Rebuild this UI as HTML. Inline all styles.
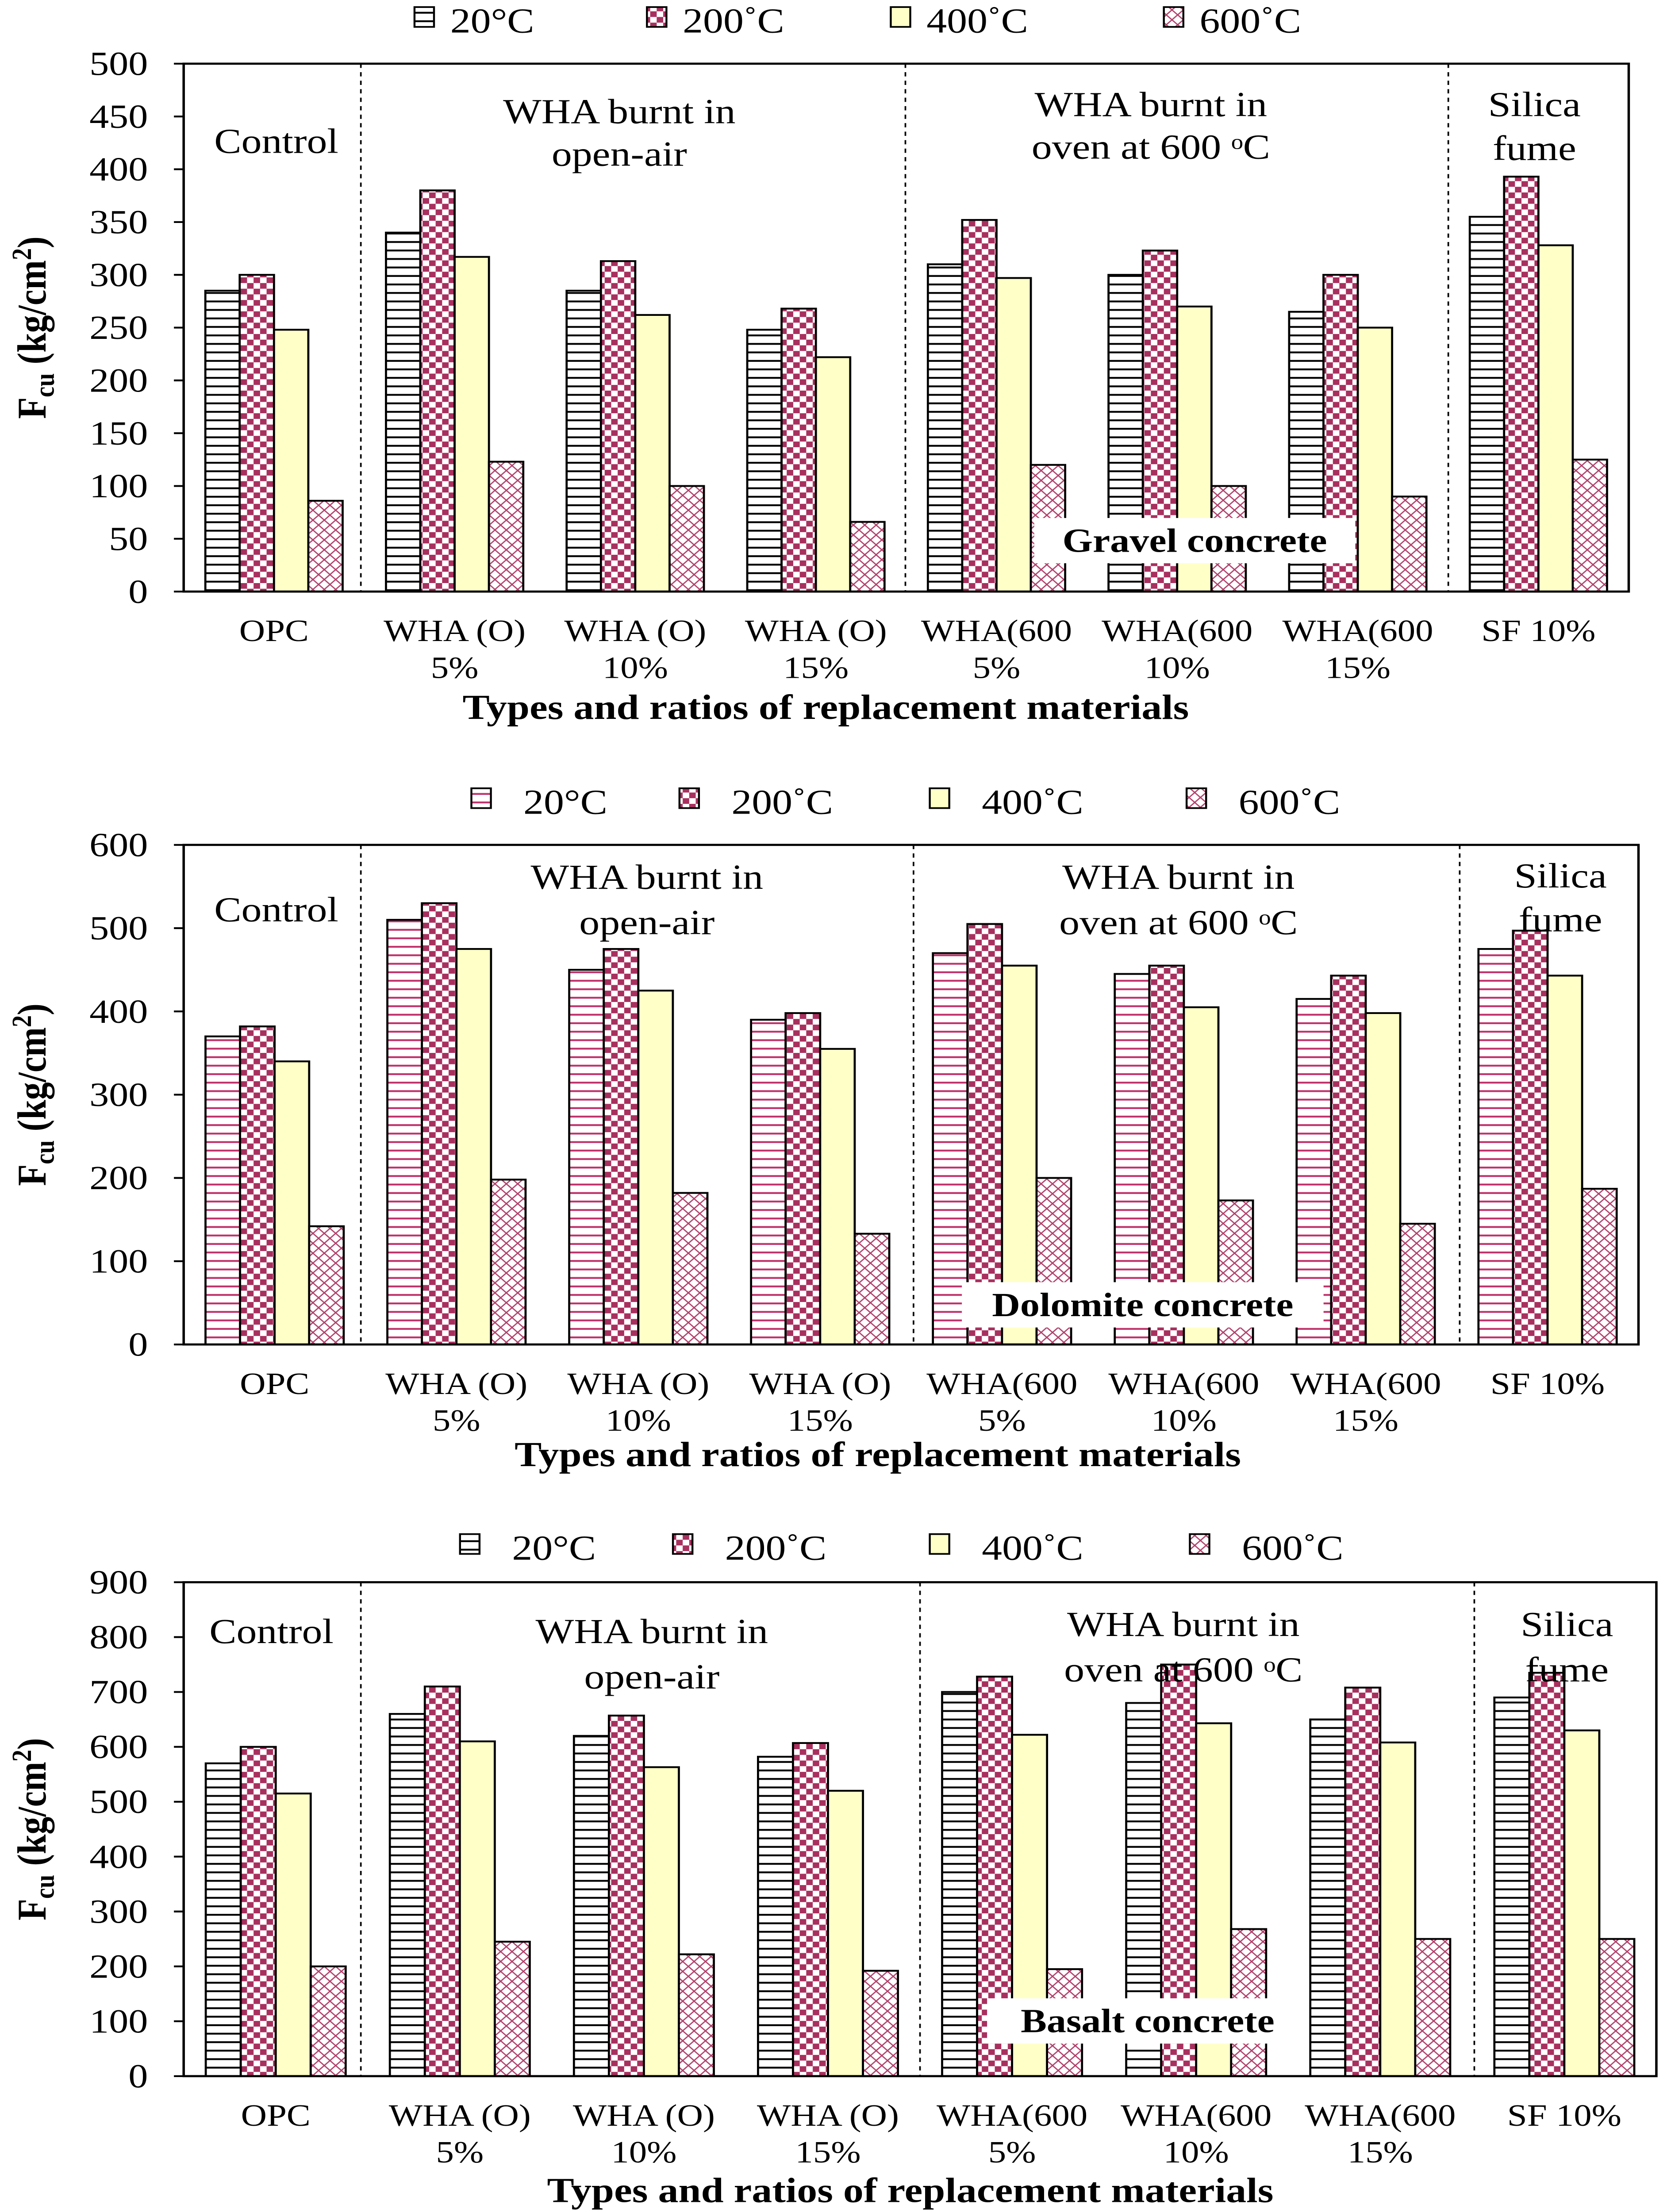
<!DOCTYPE html>
<html><head><meta charset="utf-8"><style>
html,body{margin:0;padding:0;background:#fff;width:100%;height:100%;overflow:hidden}
svg{display:block;width:100%;height:100%}
text{font-family:"Liberation Serif",serif;fill:#000}
</style></head><body>
<svg id="fig" xmlns="http://www.w3.org/2000/svg" width="100%" height="100%" viewBox="0 0 1028 1563" preserveAspectRatio="none">
<defs>
<pattern id="hBlack" width="6" height="6" patternUnits="userSpaceOnUse"><rect width="6" height="6" fill="#fff"/><line x1="0" y1="3" x2="6" y2="3" stroke="#000" stroke-width="1.3"/></pattern>
<pattern id="hPink" width="6" height="6" patternUnits="userSpaceOnUse"><rect width="6" height="6" fill="#fff"/><line x1="0" y1="3" x2="6" y2="3" stroke="#c0306a" stroke-width="1.3"/></pattern>
<pattern id="check" width="8" height="8" patternUnits="userSpaceOnUse"><rect width="8" height="8" fill="#fff"/><rect width="4" height="4" fill="#a8305e"/><rect x="4" y="4" width="4" height="4" fill="#a8305e"/></pattern>
<pattern id="cross" width="7" height="7" patternUnits="userSpaceOnUse"><rect width="7" height="7" fill="#fff"/><path d="M0,0L7,7M7,0L0,7" stroke="#b0406a" stroke-width="0.8"/></pattern>
</defs>
</svg>
<script>
const cats = [["OPC",""],["WHA (O)","5%"],["WHA (O)","10%"],["WHA (O)","15%"],["WHA(600","5%"],["WHA(600","10%"],["WHA(600","15%"],["SF 10%",""]];
const series = ["20°C","200˚C","400˚C","600˚C"];
const gravel20 = [285,340,285,248,310,300,265,355];
const gravel200 = [300,380,313,268,352,323,300,393];
const gravel400 = [248,317,262,222,297,270,250,328];
const gravel600 = [86,123,100,66,120,100,90,125];
const gravelTicks = [0,50,100,150,200,250,300,350,400,450,500];
const dolo20 = [370,510,450,390,470,445,415,475];
const dolo200 = [382,530,475,398,505,455,443,497];
const dolo400 = [340,475,425,355,455,405,398,443];
const dolo600 = [142,198,182,133,200,173,145,187];
const doloTicks = [0,100,200,300,400,500,600];
const bas20 = [570,660,620,582,700,680,650,690];
const bas200 = [600,710,657,607,728,750,708,735];
const bas400 = [515,610,563,520,622,643,608,630];
const bas600 = [200,245,222,192,195,268,250,250];
const basTicks = [0,100,200,300,400,500,600,700,800,900];

const NS="http://www.w3.org/2000/svg";
const svg=document.getElementById('fig');
function mk(tag,attrs,parent,txt){const e=document.createElementNS(NS,tag);for(const k in attrs)e.setAttribute(k,attrs[k]);if(txt!==undefined)e.textContent=txt;(parent||svg).appendChild(e);return e;}

function chart(o){
  const g=mk('g',{});
  
  
  const x0=o.x0,x1=o.x1,y0=o.y0,y1=o.y1,max=o.ticks[o.ticks.length-1];
  const yS=v=>y1-(v/max)*(y1-y0);
  const bw=(x1-x0)/cats.length;
  const cx=i=>x0+bw*(i+0.5);
  const barW=bw*0.19;
  const fills=[o.f20,'url(#check)','#ffffc8','url(#cross)'];
  const data=[o.s20,o.s200,o.s400,o.s600];
  o.ticks.forEach(t=>{
    const tl=mk('text',{x:x0-22,y:yS(t)+8,'text-anchor':'end','font-size':24},g,String(t));
    
    
    mk('line',{x1:x0-6,x2:x0,y1:yS(t),y2:yS(t),stroke:'#000','stroke-width':1.3},g);
  });
  o.seps.forEach(s=>{
    const l=mk('line',{x1:s,x2:s,y1:y0,y2:y1,stroke:'#000','stroke-width':1,'stroke-dasharray':'3,3'},g);
    
    
  });
  for(let s=0;s<4;s++){
    data[s].forEach((v,i)=>{
      const bx=cx(i)-2*barW+s*barW;
      const r=mk('rect',{x:bx,y:yS(v),width:barW,height:y1-yS(v),fill:fills[s],stroke:'#000','stroke-width':1.3},g);
      
      
    });
  }
  const fr=mk('rect',{x:x0,y:y0,width:x1-x0,height:y1-y0,fill:'none',stroke:'#000','stroke-width':1.5},g);
  
  
  cats.forEach((c,i)=>{
    const t=mk('text',{x:cx(i),y:y1+35,'text-anchor':'middle','font-size':22},g,c[0]);
    
    
    if(c[1]){const t2=mk('text',{x:cx(i),y:y1+61,'text-anchor':'middle','font-size':22},g,c[1]);
      
      }
  });
  const xt=mk('text',{x:o.titleX,y:o.titleY,'text-anchor':'middle','font-size':25,'font-weight':'bold'},g,'Types and ratios of replacement materials');
  
  
  const yc=(y0+y1)/2;
  const yt=mk('text',{x:0,y:0,transform:`translate(28,${yc}) rotate(-90)`,'text-anchor':'middle','font-size':25,'font-weight':'bold'},g);
  
  
  mk('tspan',{},yt,'F');mk('tspan',{'font-size':17,dy:5},yt,'cu');mk('tspan',{dy:-5},yt,' (kg/cm');mk('tspan',{'font-size':17,dy:-9},yt,'2');mk('tspan',{dy:9},yt,')');
  o.leg.forEach((lx,s)=>{
    const sw=mk('rect',{x:lx,y:o.legY-15,width:12,height:14,fill:fills[s],stroke:'#000','stroke-width':1.2},g);
    
    
    const lt=mk('text',{x:lx+o.legGap,y:o.legY+3,'font-size':25},g,series[s]);
    
    
  });
  o.notes.forEach(n=>{
    const t=mk('text',{x:n[0],y:n[1],'text-anchor':'middle','font-size':25},g,n[2]);
    
    
  });
  const [bx,by,lbl]=o.box;
  const bwid=lbl.length*12.5+10;
  const br=mk('rect',{x:bx-bwid/2,y:by-20,width:bwid,height:32,fill:'#fff'},g);
  
  
  const bt=mk('text',{x:bx,y:by+4,'text-anchor':'middle','font-size':24,'font-weight':'bold'},g,lbl);
  
  
}

chart({name:'gravel-chart',x0:113,x1:1002,y0:45,y1:418,ticks:gravelTicks,s20:gravel20,s200:gravel200,s400:gravel400,s600:gravel600,f20:'url(#hBlack)',
  seps:[222,557,891],titleX:508,titleY:508,leg:[255,398,548,716],legY:20,legGap:22,
  notes:[[170,108,'Control'],[381,87,'WHA burnt in'],[381,117,'open-air'],[708,82,'WHA burnt in'],[708,112,'oven at 600 ᵒC'],[944,82,'Silica'],[944,113,'fume']],
  box:[735,386,'Gravel concrete']});
chart({name:'dolomite-chart',x0:113,x1:1008,y0:597,y1:950,ticks:doloTicks,s20:dolo20,s200:dolo200,s400:dolo400,s600:dolo600,f20:'url(#hPink)',
  seps:[222,562,898],titleX:540,titleY:1036,leg:[290,418,572,730],legY:572,legGap:32,
  notes:[[170,651,'Control'],[398,628,'WHA burnt in'],[398,660,'open-air'],[725,628,'WHA burnt in'],[725,660,'oven at 600 ᵒC'],[960,627,'Silica'],[960,658,'fume']],
  box:[703,926,'Dolomite concrete']});
chart({name:'basalt-chart',x0:113,x1:1019,y0:1118,y1:1467,ticks:basTicks,s20:bas20,s200:bas200,s400:bas400,s600:bas600,f20:'url(#hBlack)',
  seps:[222,566,907],titleX:560,titleY:1556,leg:[283,414,572,732],legY:1099,legGap:32,
  notes:[[167,1161,'Control'],[401,1161,'WHA burnt in'],[401,1193,'open-air'],[728,1156,'WHA burnt in'],[728,1188,'oven at 600 ᵒC'],[964,1156,'Silica'],[964,1188,'fume']],
  box:[706,1432,'Basalt concrete']});
</script>
</body></html>
